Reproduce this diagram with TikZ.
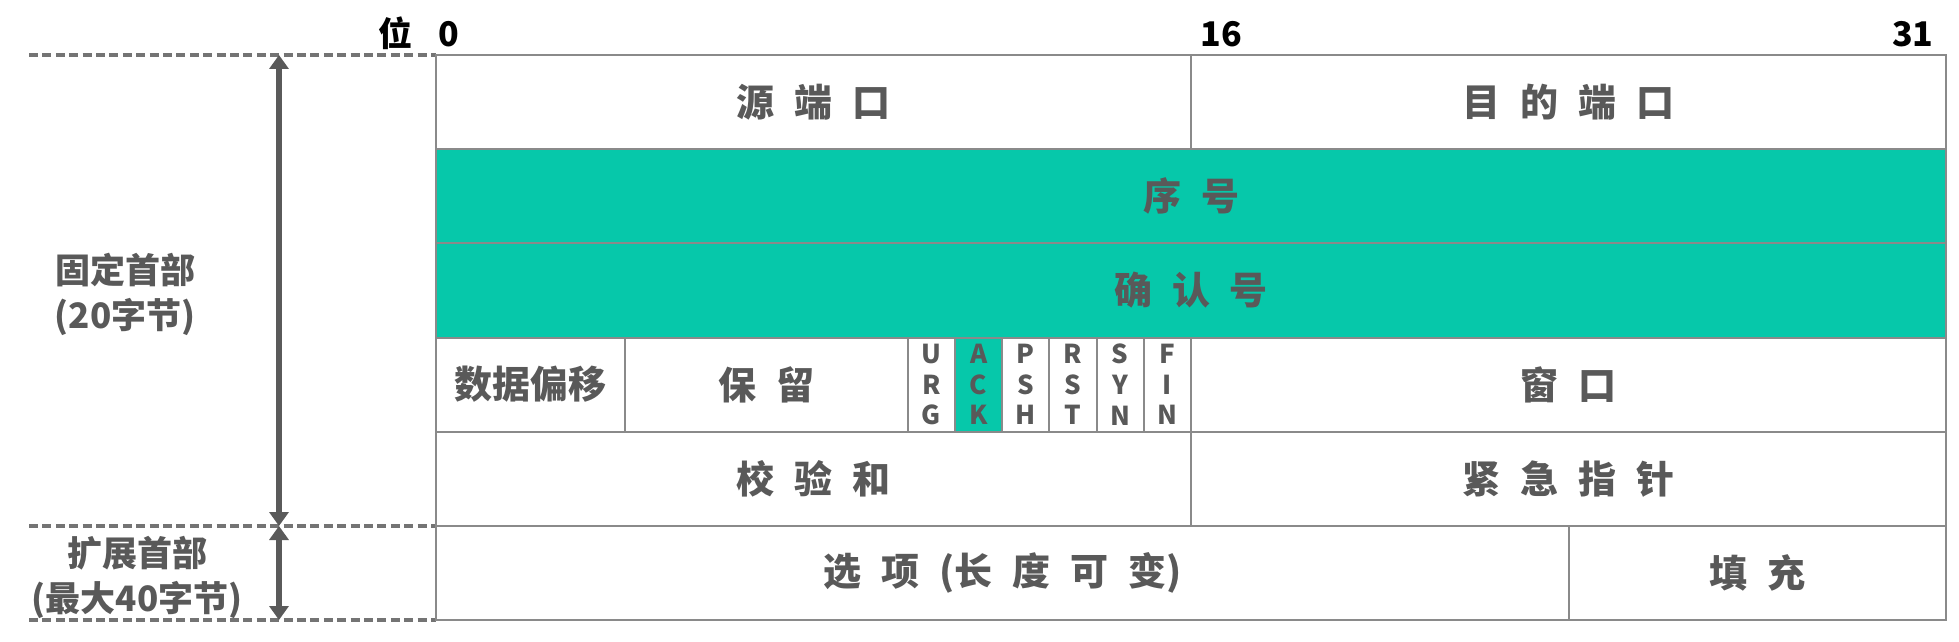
\documentclass[tikz,border=0pt]{standalone}
\usepackage{fontspec}
\setmainfont{Noto Sans CJK SC}
\usetikzlibrary{arrows.meta}
\definecolor{gridc}{HTML}{8A8A8A}
\definecolor{txtc}{HTML}{595959}
\definecolor{dashc}{HTML}{747474}
\definecolor{arrc}{HTML}{5A5A5A}
\definecolor{tgreen}{HTML}{06C8AA}
\newcommand\gp{\hspace{10pt}}
\newcommand\bitcell[6][]{\node[cell,#1,minimum width={(#4-#3)*23.59375pt},minimum height=47.0833pt] (#2) at ({436+(#3+#4)*23.59375},{55+(#5+0.5)*94.1667}) {#6};}
\begin{document}
\begin{tikzpicture}[x=0.5pt,y=-0.5pt,
  cell/.style={draw=gridc, line width=1pt, inner sep=0pt, text=txtc, font=\bfseries\fontsize{19pt}{22pt}\selectfont},
  grn/.style={fill=tgreen},
  flag/.style={align=center, font=\bfseries\fontsize{13pt}{15.3pt}\selectfont},
  dashln/.style={draw=dashc, line width=1.6pt, dash pattern=on 4.5pt off 2.2pt},
  dimarrow/.style={draw=arrc, line width=2.8pt, {Triangle[width=9.5pt,length=7pt]}-{Triangle[width=9.5pt,length=7pt]}},
  sidelbl/.style={text=txtc, align=center, font=\bfseries\fontsize{17.5pt}{22.5pt}\selectfont},
  bitlbl/.style={text=black, font=\bfseries\fontsize{17pt}{20pt}\selectfont, inner sep=0pt}
]
\useasboundingbox (0,0) rectangle (1959,642);
% dashed guide lines
\coordinate (d0) at (29,55);
\coordinate (d1) at (29,526);
\coordinate (d2) at (29,620);
\coordinate (t0) at (436,55);
\coordinate (t1) at (436,526);
\coordinate (t2) at (436,620);
\draw[dashln] (d0) -- (t0);
\draw[dashln] (d1) -- (t1);
\draw[dashln] (d2) -- (t2);
% dimension arrows
\coordinate (a0) at (279,55);
\coordinate (a1) at (279,526);
\coordinate (a2) at (279,620);
\draw[dimarrow] (a0) -- (a1);
\draw[dimarrow] (a1) -- (a2);
% side labels
\node[sidelbl] (fix) at (125,294) {固定首部\\(20字节)};
\node[sidelbl] (ext) at (137,577) {扩展首部\\(最大40字节)};
% bit labels
\node[bitlbl, anchor=base] (wei) at (395,47) {位};
\node[bitlbl, anchor=base west] (b0) at (438,47) {0};
\node[bitlbl, anchor=base west] (b16) at (1200,47) {16};
\node[bitlbl, anchor=base east] (b31) at (1934,47) {31};
% cells
\bitcell{src}{0}{16}{0}{源{\gp}端{\gp}口}
\bitcell{dst}{16}{32}{0}{目{\gp}的{\gp}端{\gp}口}
\bitcell[grn]{seq}{0}{32}{1}{序{\gp}号}
\bitcell[grn]{ackn}{0}{32}{2}{确{\gp}认{\gp}号}
\bitcell{off}{0}{4}{3}{数据偏移}
\bitcell{rsv}{4}{10}{3}{保{\gp}留}
\bitcell[flag]{urg}{10}{11}{3}{U\\R\\G}
\bitcell[flag,grn]{ack}{11}{12}{3}{A\\C\\K}
\bitcell[flag]{psh}{12}{13}{3}{P\\S\\H}
\bitcell[flag]{rst}{13}{14}{3}{R\\S\\T}
\bitcell[flag]{syn}{14}{15}{3}{S\\Y\\N}
\bitcell[flag]{fin}{15}{16}{3}{F\\I\\N}
\bitcell{win}{16}{32}{3}{窗{\gp}口}
\bitcell{chk}{0}{16}{4}{校{\gp}验{\gp}和}
\bitcell{urp}{16}{32}{4}{紧{\gp}急{\gp}指{\gp}针}
\bitcell{opt}{0}{24}{5}{选{\gp}项{\gp}(长{\gp}度{\gp}可{\gp}变)}
\bitcell{pad}{24}{32}{5}{填{\gp}充}
\end{tikzpicture}
\end{document}
